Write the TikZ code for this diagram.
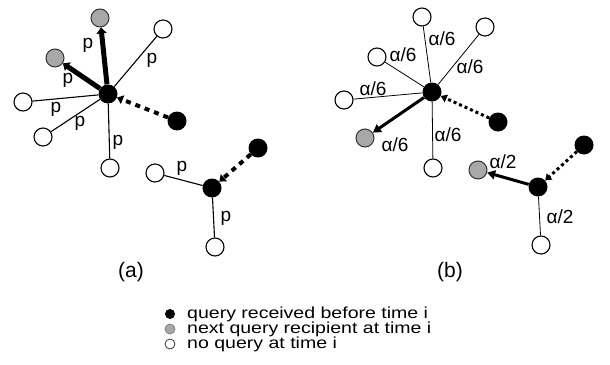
\documentclass[tikz,border=0pt]{standalone}
\usepackage{fontspec}
\usepackage{graphicx}
\setmainfont{Liberation Sans}
\usetikzlibrary{arrows.meta}
\definecolor{dotgray}{HTML}{A8A8A8}
\tikzset{
  blk/.style={circle,fill=black,minimum size=19pt,inner sep=0pt},
  gry/.style={circle,fill=dotgray,draw=black!80,line width=1pt,minimum size=18pt,inner sep=0pt},
  wht/.style={circle,fill=white,draw=black,line width=1.1pt,minimum size=18pt,inner sep=0pt},
  thinedge/.style={line width=1.1pt},
  thinedgeb/.style={line width=0.8pt},
  bigarrow/.style={line width=5pt,-{Triangle[width=10pt,length=6pt]}},
  medarrow/.style={line width=3pt,-{Triangle[width=9pt,length=8pt]}},
  dasharrow/.style={line width=4pt,dash pattern=on 5pt off 5pt,-{Triangle[width=9pt,length=6pt]}},
  dotarrow/.style={line width=3pt,dash pattern=on 3pt off 3pt,-{Triangle[width=8pt,length=6pt]}},
  lbl/.style={font=\fontsize{19}{19}\selectfont,inner sep=0pt},
  captxt/.style={font=\fontsize{21}{21}\selectfont,inner sep=0pt},
  leg/.style={font=\fontsize{16}{15}\selectfont,inner sep=0pt,anchor=base west},
  legdot/.style={circle,minimum size=10pt,inner sep=0pt,line width=0.8pt},
}
\begin{document}
\begin{tikzpicture}[x=1pt,y=-1pt]
\useasboundingbox (0,0) rectangle (610,364);
% panel (a)
\node[blk] (A) at (108,94) {};
\node[gry] (ga1) at (100,18) {};
\node[gry] (ga2) at (55,58) {};
\node[wht] (wa1) at (163,29) {};
\node[wht] (wa2) at (23,102) {};
\node[wht] (wa3) at (43,137) {};
\node[wht] (wa4) at (110,168) {};
\node[blk] (sa) at (177,121) {};
\node[blk] (B) at (212,188) {};
\node[blk] (sb) at (258,148) {};
\node[wht] (wb1) at (155,173) {};
\node[wht] (wb2) at (215,247) {};
\draw[thinedge] (A) -- (wa1);
\draw[thinedge] (A) -- (wa2);
\draw[thinedge] (A) -- (wa3);
\draw[thinedge] (A) -- (wa4);
\draw[bigarrow] (A) -- (ga1);
\draw[bigarrow] (A) -- (ga2);
\draw[dasharrow] (sa) -- (A);
\draw[thinedge] (B) -- (wb1);
\draw[thinedge] (B) -- (wb2);
\draw[dasharrow] (sb) -- (B);
\node[lbl] (pa1) at (88,45) {p};
\node[lbl] (pa2) at (68,80) {p};
\node[lbl] (pa3) at (152,60) {p};
\node[lbl] (pa4) at (56,109) {p};
\node[lbl] (pa5) at (80,123) {p};
\node[lbl] (pa6) at (118,142) {p};
\node[lbl] (pb1) at (182,168) {p};
\node[lbl] (pb2) at (226,218) {p};
\node[captxt] (capa) at (131,272) {(a)};
% panel (b)
\node[blk] (C) at (432,92) {};
\node[wht] (wc1) at (422,17) {};
\node[wht] (wc2) at (485,27) {};
\node[wht] (wc3) at (377,57) {};
\node[wht] (wc4) at (344,100) {};
\node[gry] (gc) at (365,138) {};
\node[wht] (wc5) at (433,168) {};
\node[blk] (sc) at (498,122) {};
\node[blk] (D) at (538,187) {};
\node[blk] (sd) at (584,145) {};
\node[gry] (gd) at (478,170) {};
\node[wht] (wd) at (541,245) {};
\draw[thinedgeb] (C) -- (wc1);
\draw[thinedgeb] (C) -- (wc2);
\draw[thinedgeb] (C) -- (wc3);
\draw[thinedgeb] (C) -- (wc4);
\draw[thinedgeb] (C) -- (wc5);
\draw[medarrow] (C) -- (gc);
\draw[dotarrow] (sc) -- (C);
\draw[thinedgeb] (D) -- (wd);
\draw[medarrow] (D) -- (gd);
\draw[dotarrow] (sd) -- (D);
\node[lbl] (lc1) at (442,39) {α/6};
\node[lbl] (lc2) at (403,55) {α/6};
\node[lbl] (lc3) at (470,67) {α/6};
\node[lbl] (lc4) at (373,89) {α/6};
\node[lbl] (lc5) at (395,145) {α/6};
\node[lbl] (lc6) at (448,135) {α/6};
\node[lbl] (ld1) at (503,162) {α/2};
\node[lbl] (ld2) at (560,217) {α/2};
\node[captxt] (capb) at (450,272) {(b)};
% legend
\node[legdot,fill=black] (k1) at (170,314) {};
\node[legdot,fill=dotgray,draw=black!50] (k2) at (170,329) {};
\node[legdot,fill=white,draw=black!80] (k3) at (170,344) {};
\node[leg] (t1) at (187,318) {\scalebox{1.22}[1]{query received before time i}};
\node[leg] (t2) at (187,333) {\scalebox{1.22}[1]{next query recipient at time i}};
\node[leg] (t3) at (187,348) {\scalebox{1.22}[1]{no query at time i}};
\end{tikzpicture}
\end{document}
